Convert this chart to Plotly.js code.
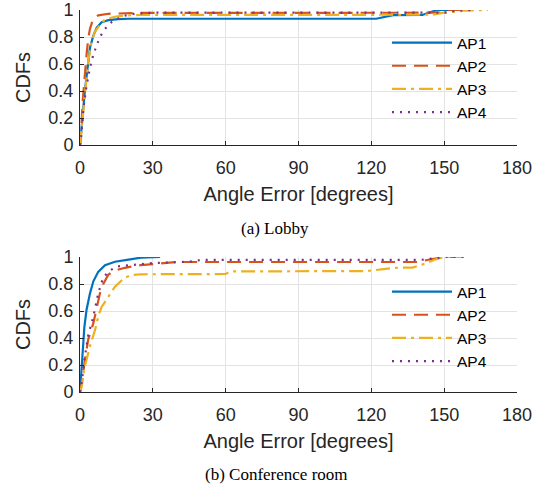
<!DOCTYPE html>
<html><head><meta charset="utf-8">
<script src="https://cdn.plot.ly/plotly-3.0.1.min.js"></script>
<style>html,body{margin:0;padding:0;background:#fff}#chart{width:546px;height:491px}</style>
</head><body><div id="chart"></div>
<script>
// Tick values
const xTicks = [0, 30, 60, 90, 120, 150, 180];
const yTicks = [0, 0.2, 0.4, 0.6, 0.8, 1];
const seriesNames = ["AP1", "AP2", "AP3", "AP4"];

// (a) Lobby
const lobbyAP1x = [0, 0.5, 1, 2, 3, 4.1, 5.5, 6.9, 8.9, 11.7, 15.8, 20, 122, 126, 129, 141, 144, 147, 158];
const lobbyAP1y = [0, 0.08, 0.2, 0.4, 0.57, 0.72, 0.81, 0.87, 0.91, 0.925, 0.932, 0.935, 0.935, 0.95, 0.962, 0.963, 0.98, 1, 1];
const lobbyAP2x = [0, 0.5, 1, 2, 2.7, 3.4, 4.1, 5.5, 7.5, 11.7, 17, 25, 148, 152, 160];
const lobbyAP2y = [0, 0.1, 0.3, 0.54, 0.67, 0.79, 0.86, 0.94, 0.96, 0.972, 0.976, 0.978, 0.98, 1, 1];
const lobbyAP3x = [0, 0.5, 2, 3.4, 4.8, 6.2, 8.2, 10.3, 14.4, 18.5, 25, 145, 150, 158, 168];
const lobbyAP3y = [0, 0.08, 0.37, 0.62, 0.77, 0.84, 0.89, 0.93, 0.95, 0.96, 0.963, 0.965, 0.98, 0.995, 1];
const lobbyAP4x = [0, 0.5, 1.4, 2.7, 4.1, 5.5, 6.9, 8.2, 10.3, 13, 17, 21, 30, 150, 155, 162];
const lobbyAP4y = [0, 0.06, 0.27, 0.44, 0.57, 0.67, 0.74, 0.80, 0.86, 0.91, 0.95, 0.97, 0.98, 0.98, 0.995, 1];

// (b) Conference room
const confAP1x = [0, 0.4, 1, 1.8, 2.7, 4.1, 5.5, 7.5, 10.3, 14.4, 20, 25, 33];
const confAP1y = [0, 0.11, 0.31, 0.48, 0.61, 0.73, 0.82, 0.89, 0.94, 0.965, 0.98, 0.995, 1];
const confAP2x = [0, 0.7, 2, 3.4, 5.5, 6.9, 8.2, 9.6, 11.7, 14.4, 18.5, 25, 33, 40, 139, 145, 151, 158];
const confAP2y = [0, 0.06, 0.24, 0.39, 0.51, 0.63, 0.73, 0.80, 0.87, 0.90, 0.92, 0.94, 0.95, 0.963, 0.963, 0.985, 1, 1];
const confAP3x = [0, 0.7, 2, 4.1, 6.2, 7.5, 8.9, 11.7, 14.4, 17.9, 21, 25, 60, 62, 118, 125, 130, 137, 142, 146, 150, 158];
const confAP3y = [0, 0.04, 0.19, 0.34, 0.46, 0.56, 0.63, 0.71, 0.78, 0.84, 0.865, 0.872, 0.874, 0.893, 0.896, 0.91, 0.92, 0.922, 0.95, 0.98, 1, 1];
const confAP4x = [0, 0.7, 2, 3.4, 5.5, 7.5, 9.6, 12.4, 15, 20, 30, 45, 50, 140, 146, 151, 158];
const confAP4y = [0, 0.07, 0.26, 0.42, 0.56, 0.73, 0.85, 0.90, 0.93, 0.94, 0.955, 0.965, 0.978, 0.978, 0.99, 1, 1];

const colors = ["#0072BD", "#D95319", "#EDB120", "#7E2F8E"];
const dashes = ["solid", "14px,8px", "14px,5px,3px,5px", "2px,6px"];

const lobbyX = [lobbyAP1x, lobbyAP2x, lobbyAP3x, lobbyAP4x];
const lobbyY = [lobbyAP1y, lobbyAP2y, lobbyAP3y, lobbyAP4y];
const confX = [confAP1x, confAP2x, confAP3x, confAP4x];
const confY = [confAP1y, confAP2y, confAP3y, confAP4y];

const traces = [];
for (let i = 0; i < 4; i++) {
  traces.push({x: lobbyX[i], y: lobbyY[i], name: seriesNames[i], type: "scatter", mode: "lines",
    xaxis: "x", yaxis: "y", legend: "legend",
    line: {color: colors[i], width: 2.2, dash: dashes[i]}});
}
for (let i = 0; i < 4; i++) {
  traces.push({x: confX[i], y: confY[i], name: seriesNames[i], type: "scatter", mode: "lines",
    xaxis: "x2", yaxis: "y2", legend: "legend2",
    line: {color: colors[i], width: 2.2, dash: dashes[i]}});
}

const W = 546, H = 491;
const xd = [80 / W, 517 / W];
const axFont = {family: "Liberation Sans, Arial, sans-serif", size: 18, color: "#262626"};
const titleFont = {family: "Liberation Sans, Arial, sans-serif", size: 20, color: "#262626"};

function xax(anchor) {
  return {domain: xd, anchor: anchor, range: [0, 180], tickvals: xTicks, ticktext: xTicks.map(String),
    showgrid: true, gridcolor: "#e3e3e3", gridwidth: 1, zeroline: false,
    showline: true, linecolor: "#262626", linewidth: 1, ticks: "inside", ticklen: 4, tickcolor: "#262626",
    ticklabelstandoff: 6,
    tickfont: axFont, title: {text: "Angle Error [degrees]", font: titleFont, standoff: 10}, fixedrange: true};
}
function yax(anchor, dom) {
  return {domain: dom, anchor: anchor, range: [0, 1], tickvals: yTicks, ticktext: yTicks.map(String),
    showgrid: true, gridcolor: "#e3e3e3", gridwidth: 1, zeroline: false,
    showline: true, linecolor: "#262626", linewidth: 1, ticks: "inside", ticklen: 4, tickcolor: "#262626",
    ticklabelstandoff: 2,
    tickfont: axFont, title: {text: "CDFs", font: titleFont, standoff: 12}, fixedrange: true};
}

const legFont = {family: "Liberation Sans, Arial, sans-serif", size: 15.5, color: "#000"};
const capFont = {family: "Liberation Serif, serif", size: 17, color: "#000"};
const layout = {
  width: W, height: H, margin: {l: 0, r: 0, t: 0, b: 0},
  paper_bgcolor: "#fff", plot_bgcolor: "#fff", showlegend: true,
  xaxis: xax("y"),
  yaxis: yax("x", [(H - 145) / H, (H - 10) / H]),
  xaxis2: xax("y2"),
  yaxis2: yax("x2", [(H - 392) / H, (H - 257) / H]),
  legend: {x: 387 / W, y: (H - 26) / H, xanchor: "left", yanchor: "top", bgcolor: "rgba(0,0,0,0)",
    font: legFont, itemwidth: 60, tracegroupgap: 0},
  legend2: {x: 387 / W, y: (H - 275) / H, xanchor: "left", yanchor: "top", bgcolor: "rgba(0,0,0,0)",
    font: legFont, itemwidth: 60, tracegroupgap: 0},
  annotations: [
    {text: "(a) Lobby", xref: "paper", yref: "paper", x: 275 / W, y: (H - 229) / H, showarrow: false,
      xanchor: "center", yanchor: "middle", font: capFont},
    {text: "(b) Conference room", xref: "paper", yref: "paper", x: 276 / W, y: (H - 474) / H, showarrow: false,
      xanchor: "center", yanchor: "middle", font: capFont}
  ]
};
Plotly.newPlot("chart", traces, layout, {displayModeBar: false, staticPlot: true});
</script></body></html>
